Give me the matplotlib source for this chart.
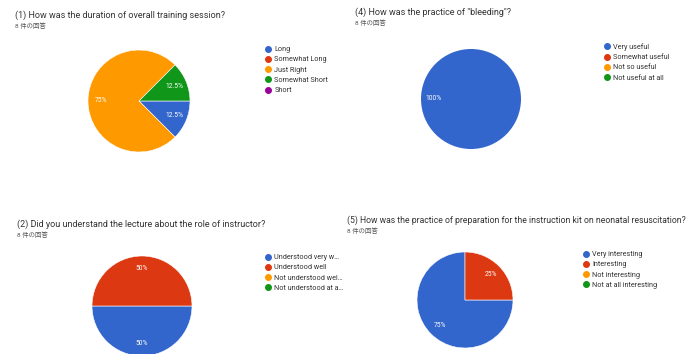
import matplotlib
matplotlib.use("Agg")
import matplotlib.pyplot as plt
from matplotlib.lines import Line2D

plt.rcParams['font.family'] = ['Roboto', 'Noto Sans CJK JP', 'DejaVu Sans']

W, H = 696, 354

# google-forms palette
BLUE, RED, ORANGE, GREEN, PURPLE = "#3366cc", "#dc3912", "#ff9900", "#109618", "#990099"

n_resp = "8 件の回答"

q1_title = "(1) How was the duration of overall training session?"
q1_labels = ["Long", "Somewhat Long", "Just Right", "Somewhat Short", "Short"]
q1_counts = [1, 0, 6, 1, 0]

q4_title = '(4) How was the practice of "bleeding"?'
q4_labels = ["Very useful", "Somewhat useful", "Not so useful", "Not useful at all"]
q4_counts = [8, 0, 0, 0]

q2_title = "(2) Did you understand the lecture about the role of instructor?"
q2_labels = ["Understood very w…", "Understood well", "Not understood wel…", "Not understood at a…"]
q2_counts = [4, 4, 0, 0]

q5_title = "(5) How was the practice of preparation for the instruction kit on neonatal resuscitation?"
q5_labels = ["Very interesting", "Interesting", "Not interesting", "Not at all interesting"]
q5_counts = [6, 2, 0, 0]

fig = plt.figure(figsize=(W / 100, H / 100), dpi=100)
fig.patch.set_facecolor("white")


def pct(p):
    if p < 0.5:
        return ""
    s = f"{p:.1f}".rstrip("0").rstrip(".")
    return s + "%"


def panel(title, counts, labels, colors, tx, ty, cx, cy, r, lx, ly, tsize=6.5):
    # title + response count
    fig.text(tx / W, 1 - ty / H, title, fontsize=tsize, color="#333333", va="center")
    fig.text(tx / W, 1 - (ty + 11) / H, n_resp, fontsize=4.6, color="#555555", va="center")

    ax = fig.add_axes([(cx - r) / W, 1 - (cy + r) / H, 2 * r / W, 2 * r / H])
    wedges, _, _ = ax.pie(counts, colors=colors, startangle=0, counterclock=False, radius=1,
                          autopct=pct, pctdistance=0.75,
                          textprops=dict(color="white", fontsize=4.8),
                          wedgeprops=dict(linewidth=0.4, edgecolor="white"))
    for w, c in zip(wedges, counts):
        if c == 0 or c == sum(counts):
            w.set_linewidth(0)
    ax.set_xlim(-1, 1)
    ax.set_ylim(-1, 1)
    ax.set_aspect("equal")
    ax.axis("off")

    handles = [Line2D([], [], marker="o", ls="", color=c, markersize=4) for c in colors]
    fig.legend(handles, labels, loc="upper left",
               bbox_to_anchor=((lx - 3) / W, 1 - (ly - 6) / H),
               frameon=False, fontsize=5.2, handlelength=0.8, handletextpad=0.5,
               labelspacing=0.45, borderpad=0, borderaxespad=0, labelcolor="#333333")


panel(q1_title, q1_counts, q1_labels, [BLUE, RED, ORANGE, GREEN, PURPLE],
      15, 15, 139, 101, 51, 268, 52)
panel(q4_title, q4_counts, q4_labels, [BLUE, RED, ORANGE, GREEN],
      355, 12, 471, 99, 50, 607, 49)
panel(q2_title, q2_counts, q2_labels, [BLUE, RED, ORANGE, GREEN],
      17, 224, 142, 306, 50, 268, 260)
panel(q5_title, q5_counts, q5_labels, [BLUE, RED, ORANGE, GREEN],
      347, 220, 465, 300, 48, 586, 257, tsize=6.2)

fig.savefig("out.png", dpi=100)
